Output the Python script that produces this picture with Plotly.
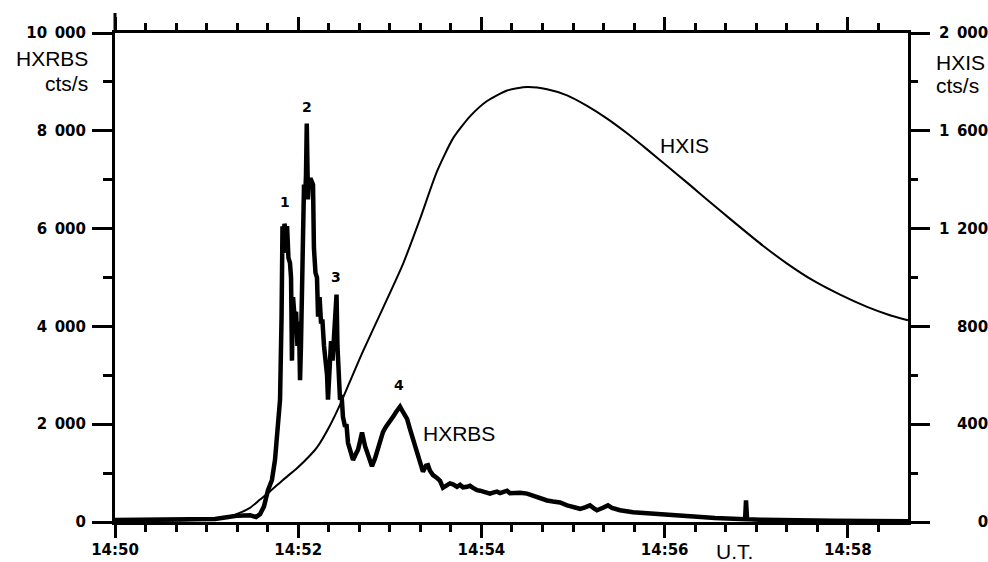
import datetime as dt
import plotly.graph_objects as go

# ---- data (time in seconds after 14:50:00 UT) ----
hxrbs_t = [0, 22.9, 45.9, 65.5, 72.1, 80.6, 88.4, 92.4, 95.0, 97.6, 100.2, 102.8, 104.8, 106.8, 108.1,
           109.1, 109.7, 110.4, 111.0, 112.0, 112.7, 113.6, 114.6, 115.3, 115.9, 116.6, 117.6, 118.6,
           119.5, 120.5, 121.2, 121.8, 122.8, 123.8, 124.5, 125.1, 125.6, 126.0, 126.4, 127.1, 128.4,
           129.7, 130.3, 131.3, 132.3, 133.0, 134.0, 134.9, 135.9, 136.9, 137.9, 138.9, 139.5, 140.5,
           141.5, 142.5, 143.4, 144.4, 145.1, 145.7, 146.7, 147.4, 148.4, 149.3, 150.7, 151.6, 152.6,
           153.9, 155.9, 157.9, 159.2, 160.5, 161.8, 163.8, 165.7, 168.3, 170.3, 171.6, 173.6, 175.5,
           177.5, 180.1, 182.1, 184.1, 186.7, 188.6, 191.3, 193.2, 195.2, 197.8, 199.8, 201.7, 203.7,
           205.0, 206.3, 208.3, 210.9, 212.9, 214.8, 217.5, 219.4, 221.4, 224.0, 226.0, 227.9, 230.6,
           232.5, 234.5, 237.1, 239.1, 242.4, 245.6, 247.6, 250.2, 252.2, 254.1, 256.8, 258.7, 262.0,
           265.3, 269.9, 273.8, 278.4, 283.0, 286.9, 291.5, 296.1, 300.0, 304.6, 307.9, 311.1, 313.7,
           315.7, 319.6, 322.9, 325.5, 330.8, 339.3, 347.2, 352.4, 360.3, 368.1, 376.6, 383.2, 393.0,
           400.9, 409.4, 412.7, 413.3, 414.0, 422.5, 435.6, 448.7, 470.3, 494.5, 519.4]
hxrbs_counts = [40, 45, 50, 60, 90, 130, 140, 100, 160, 320, 650, 860, 1270, 1900, 2500,
                4200, 6050, 5500, 6100, 5900, 6050, 5400, 5300, 5000, 3300, 4600, 4200, 4300,
                3600, 4100, 2900, 3600, 5600, 6900, 6600, 7100, 8150, 7000, 6600, 7000, 7000,
                6900, 5600, 5100, 5000, 4200, 4600, 4100, 4100, 3600, 3300, 3000, 2500, 3400,
                3700, 3300, 3700, 4200, 4650, 3600, 3000, 2500, 2600, 2150, 1950, 2000, 1620,
                1500, 1270, 1400, 1480, 1650, 1830, 1550, 1350, 1140, 1300, 1430, 1600, 1840,
                1950, 2050, 2150, 2250, 2360, 2250, 2110, 1900, 1700, 1450, 1230, 1030, 1150,
                1160, 1050, 960, 900, 840, 700, 760, 790, 770, 720, 760, 710, 720,
                740, 700, 650, 640, 600, 580, 600, 620, 590, 610, 640, 590, 600,
                600, 580, 540, 480, 440, 420, 400, 340, 300, 270, 300, 340, 280,
                240, 290, 340, 290, 240, 200, 180, 165, 140, 125, 110, 95, 80,
                70, 60, 58, 440, 58, 45, 35, 30, 25, 20, 15]

hxis_t = [0, 22.9, 42.6, 55.7, 68.8, 78.6, 88.4, 95.0, 101.5, 110.0, 119.2, 127.7, 132.3, 140.8,
          147.4, 153.9, 161.8, 175.5, 188.6, 199.8, 210.9, 221.4, 232.5, 243.7, 256.8, 269.9,
          283.0, 296.1, 309.2, 322.3, 335.4, 348.5, 361.6, 374.7, 383.2, 396.3, 409.4, 424.4,
          440.2, 457.2, 474.9, 492.6, 505.7, 519.4]
hxis_counts = [3, 4, 6, 9, 16, 30, 58, 92, 125, 172, 220, 272, 305, 395,
               480, 575, 690, 875, 1055, 1240, 1434, 1569, 1659, 1722, 1765, 1779,
               1770, 1745, 1702, 1650, 1590, 1524, 1456, 1388, 1343, 1274, 1206, 1130,
               1057, 988, 930, 880, 850, 825]

# time ticks every 20 s; labels on the 2-minute marks
x_tick_sec = list(range(0, 520, 20))
x_major_sec = [0, 120, 240, 360, 480]
x_major_text = ["14:50", "14:52", "14:54", "14:56", "14:58"]

y1_tickvals = [0, 2000, 4000, 6000, 8000, 10000]
y1_ticktext = ["0", "2\u2002000", "4\u2002000", "6\u2002000", "8\u2002000", "10\u2002000"]
y2_tickvals = [0, 400, 800, 1200, 1600, 2000]
y2_ticktext = ["\u2007\u2007\u2007\u20020", "\u2007\u2002400", "\u2007\u2002800",
               "1\u2002200", "1\u2002600", "2\u2002000"]

peak_labels = ["1", "2", "3", "4"]
peak_t = [111.4, 125.8, 144.7, 186.0]
peak_y = [6544, 8487, 5010, 2802]

t0 = dt.datetime(2000, 1, 1, 14, 50, 0)


def ts(sec):
    return (t0 + dt.timedelta(seconds=sec)).strftime("%Y-%m-%d %H:%M:%S.%f")


t_end = 519.4
major_lookup = dict(zip(x_major_sec, x_major_text))

# ---- figure ----
fig = go.Figure()
fig.add_trace(go.Scatter(x=[ts(t) for t in hxrbs_t], y=hxrbs_counts, mode="lines",
                         line=dict(color="black", width=4.5), name="HXRBS",
                         xaxis="x", yaxis="y"))
fig.add_trace(go.Scatter(x=[ts(t) for t in hxis_t], y=hxis_counts, mode="lines",
                         line=dict(color="black", width=2, shape="spline", smoothing=0.6),
                         name="HXIS", xaxis="x", yaxis="y2"))
# invisible traces anchoring the long-tick time axes (bottom and top)
for ax in ["x2", "x3"]:
    fig.add_trace(go.Scatter(x=[ts(0), ts(t_end)], y=[None, None], mode="lines",
                             showlegend=False, hoverinfo="skip", xaxis=ax, yaxis="y"))

tickfont = dict(family="DejaVu Sans", size=15, color="black", weight="bold")
labfont = dict(family="Liberation Sans", size=21, color="black")
tickstyle = dict(tickwidth=3, tickcolor="black")

xbase = dict(type="date", range=[ts(0), ts(t_end)],
             showgrid=False, zeroline=False, automargin=False, ticks="outside", **tickstyle)

fig.update_layout(
    width=988, height=562,
    margin=dict(l=115, r=80, t=33, b=40, autoexpand=False),
    paper_bgcolor="white", plot_bgcolor="white",
    showlegend=False,
    xaxis=dict(**xbase, tickmode="array", tickvals=[ts(s) for s in x_tick_sec],
               ticktext=[major_lookup.get(s, "") for s in x_tick_sec], ticklen=7,
               showline=True, linewidth=3, linecolor="black", mirror="ticks",
               tickfont=tickfont, ticklabelstandoff=5),
    xaxis2=dict(**xbase, tickmode="array", tickvals=[ts(s) for s in x_major_sec], ticklen=15,
                overlaying="x", side="bottom", anchor="y", showline=False, showticklabels=False),
    xaxis3=dict(**xbase, tickmode="array", tickvals=[ts(s) for s in x_major_sec], ticklen=15,
                overlaying="x", side="top", anchor="y", showline=False, showticklabels=False),
    yaxis=dict(range=[0, 10000], tickmode="array", tickvals=y1_tickvals, ticktext=y1_ticktext,
               showline=True, linewidth=3, linecolor="black",
               ticks="outside", ticklen=20, **tickstyle,
               minor=dict(tickmode="linear", tick0=0, dtick=1000, ticks="outside",
                          ticklen=9, showgrid=False, **tickstyle),
               showgrid=False, zeroline=False, tickfont=tickfont, ticklabelstandoff=3,
               automargin=False),
    yaxis2=dict(range=[0, 2000], overlaying="y", side="right", tickmode="array",
                tickvals=y2_tickvals, ticktext=y2_ticktext,
                showline=True, linewidth=3, linecolor="black",
                ticks="outside", ticklen=19, **tickstyle,
                minor=dict(tickmode="linear", tick0=0, dtick=200, ticks="outside",
                           ticklen=7, showgrid=False, **tickstyle),
                showgrid=False, zeroline=False, tickfont=tickfont, ticklabelstandoff=6,
                automargin=False),
)

# left axis line continues a little above the frame, as in the original
fig.add_shape(type="line", xref="paper", yref="paper", x0=0, x1=0, y0=1, y1=1 + 20 / 489,
              line=dict(color="black", width=3))

annotations = []
for lab, t, y in zip(peak_labels, peak_t, peak_y):
    annotations.append(dict(x=ts(t), y=y, xref="x", yref="y", text=lab, showarrow=False,
                            xanchor="center", yanchor="middle",
                            font=dict(family="DejaVu Sans", size=14, color="black", weight="bold")))
annotations += [
    dict(x=ts(225.3), y=1800, xref="x", yref="y", text="HXRBS", showarrow=False,
         xanchor="center", yanchor="middle", font=labfont),
    dict(x=ts(373.2), y=7690, xref="x", yref="y", text="HXIS", showarrow=False,
         xanchor="center", yanchor="middle", font=labfont),
    dict(x=(734 - 115) / 793, y=(522 - 551) / 489, xref="paper", yref="paper", text="U.T.",
         xanchor="center", yanchor="middle", showarrow=False, font=labfont),
    dict(x=(90 - 115) / 793, y=(522 - 58) / 489, xref="paper", yref="paper", text="HXRBS",
         xanchor="right", yanchor="middle", showarrow=False, font=labfont),
    dict(x=(90 - 115) / 793, y=(522 - 84) / 489, xref="paper", yref="paper", text="cts/s",
         xanchor="right", yanchor="middle", showarrow=False, font=labfont),
    dict(x=(934 - 115) / 793, y=(522 - 63) / 489, xref="paper", yref="paper", text="HXIS",
         xanchor="left", yanchor="middle", showarrow=False, font=labfont),
    dict(x=(934 - 115) / 793, y=(522 - 86) / 489, xref="paper", yref="paper", text="cts/s",
         xanchor="left", yanchor="middle", showarrow=False, font=labfont),
]
fig.update_layout(annotations=annotations)

fig.write_html("out.html")
